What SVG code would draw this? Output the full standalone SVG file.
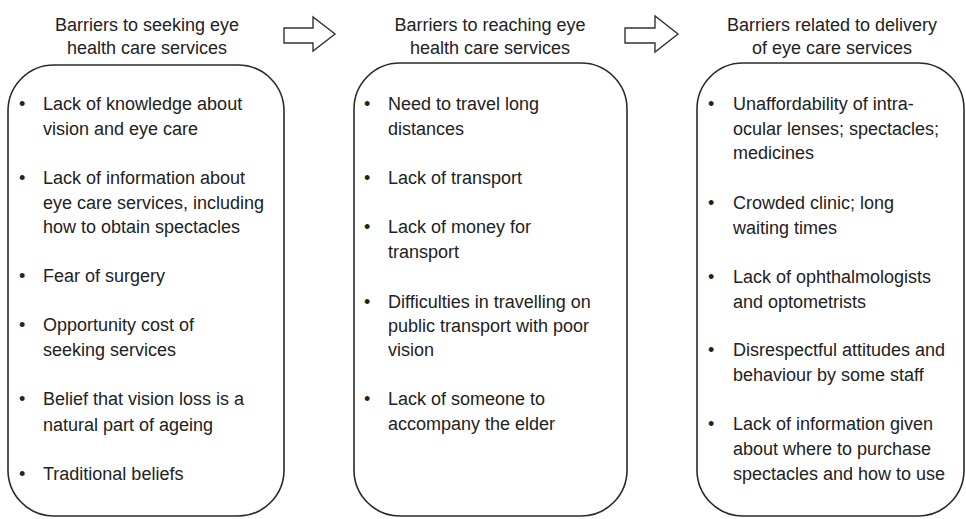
<svg xmlns="http://www.w3.org/2000/svg" width="966" height="519" viewBox="0 0 966 519">
<style>
.box{fill:#fff;stroke:#2a2a2a;stroke-width:1.6}
.arrow{fill:#fff;stroke:#333;stroke-width:1.4;stroke-linejoin:miter}
.title{font-family:"Liberation Sans",Arial,sans-serif;font-size:18px;fill:#222;text-anchor:middle}
.body{font-family:"Liberation Sans",Arial,sans-serif;font-size:18px;fill:#222}
.bul{font-family:"Liberation Sans",Arial,sans-serif;font-size:18px;fill:#222}
</style>
<rect width="966" height="519" fill="#fff"/>
<g id="connectors">
<path class="arrow" d="M284,28 H313 V17 L335,34 L313,51 V43 H284 Z"/>
<path class="arrow" d="M625,28 H655 V16 L678,34 L655,52 V43 H625 Z"/>
</g>
<g id="node-seeking">
<text class="title" x="147" y="31">Barriers to seeking eye</text>
<text class="title" x="147" y="54">health care services</text>
<rect class="box" x="8" y="65" width="276" height="451" rx="46" ry="46"/>
<g class="bul"><text x="19" y="110">•</text><text x="19" y="184">•</text><text x="19" y="282">•</text><text x="19" y="331">•</text><text x="19" y="405">•</text><text x="19" y="480">•</text></g>
<g class="body">
<text x="43" y="110">Lack of knowledge about</text>
<text x="43" y="135">vision and eye care</text>
<text x="43" y="184">Lack of information about</text>
<text x="43" y="209">eye care services, including</text>
<text x="43" y="233">how to obtain spectacles</text>
<text x="43" y="282">Fear of surgery</text>
<text x="43" y="331">Opportunity cost of</text>
<text x="43" y="356">seeking services</text>
<text x="43" y="405">Belief that vision loss is a</text>
<text x="43" y="431">natural part of ageing</text>
<text x="43" y="480">Traditional beliefs</text>
</g>
</g>
<g id="node-reaching">
<text class="title" x="490" y="31">Barriers to reaching eye</text>
<text class="title" x="490" y="54">health care services</text>
<rect class="box" x="354" y="63" width="273" height="453" rx="46" ry="46"/>
<g class="bul"><text x="364" y="110">•</text><text x="364" y="184">•</text><text x="364" y="233">•</text><text x="364" y="308">•</text><text x="364" y="405">•</text></g>
<g class="body">
<text x="388" y="110">Need to travel long</text>
<text x="388" y="135">distances</text>
<text x="388" y="184">Lack of transport</text>
<text x="388" y="233">Lack of money for</text>
<text x="388" y="258">transport</text>
<text x="388" y="308">Difficulties in travelling on</text>
<text x="388" y="332">public transport with poor</text>
<text x="388" y="356">vision</text>
<text x="388" y="405">Lack of someone to</text>
<text x="388" y="430">accompany the elder</text>
</g>
</g>
<g id="node-delivery">
<text class="title" x="832" y="31">Barriers related to delivery</text>
<text class="title" x="832" y="54">of eye care services</text>
<rect class="box" x="697" y="63" width="267" height="453" rx="46" ry="46"/>
<g class="bul"><text x="708" y="110">•</text><text x="708" y="209">•</text><text x="708" y="283">•</text><text x="708" y="356">•</text><text x="708" y="430">•</text></g>
<g class="body">
<text x="733" y="110">Unaffordability of intra-</text>
<text x="733" y="135">ocular lenses; spectacles;</text>
<text x="733" y="159">medicines</text>
<text x="733" y="209">Crowded clinic; long</text>
<text x="733" y="234">waiting times</text>
<text x="733" y="283">Lack of ophthalmologists</text>
<text x="733" y="308">and optometrists</text>
<text x="733" y="356">Disrespectful attitudes and</text>
<text x="733" y="381">behaviour by some staff</text>
<text x="733" y="430">Lack of information given</text>
<text x="733" y="455">about where to purchase</text>
<text x="733" y="480">spectacles and how to use</text>
</g>
</g>
</svg>
